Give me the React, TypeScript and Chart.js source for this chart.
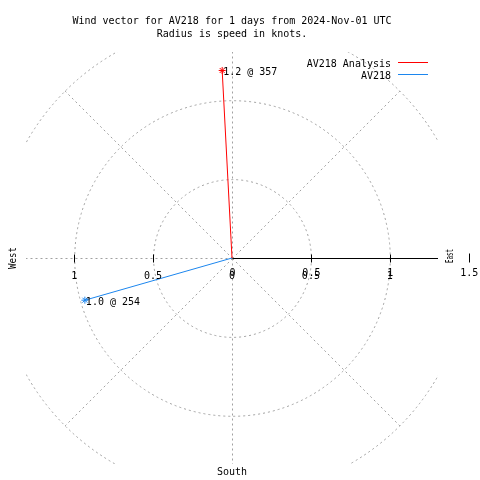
import React, { useEffect, useRef } from "react";
import { Chart, registerables } from "chart.js";

Chart.register(...registerables);

// ---- data ----
const titleLines = [
  "Wind vector for AV218 for 1 days from 2024-Nov-01 UTC",
  "Radius is speed in knots.",
];
const seriesNames = ["AV218 Analysis", "AV218"];
const seriesColors = ["#ff0000", "#1c86ee"];
const speeds = [1.19, 0.97]; // knots
const directions = [357, 254]; // degrees (compass)
const ringValues = [0.5, 1, 1.5];
const spokeAngles = [0, 45, 90, 135, 180, 225, 270, 315];
const axisTicks = [-1, -0.5, 0, 0.5, 1];
const radialTicks = [0, 0.5, 1, 1.5];
const compassLabels = ["West", "East", "South"];
const axisRange = 1.3055;

const FONT = "10px 'DejaVu Sans Mono', monospace";

const polarPlugin = {
  id: "polarDecor",
  beforeDatasetsDraw(chart: any) {
    const { ctx, chartArea: a } = chart;
    const xs = chart.scales.x;
    const ys = chart.scales.y;
    const cx = xs.getPixelForValue(0);
    const cy = ys.getPixelForValue(0);
    const unit = xs.getPixelForValue(1) - cx;
    const rMax = ringValues[ringValues.length - 1];
    ctx.save();
    ctx.beginPath();
    ctx.rect(a.left, a.top, a.right - a.left, a.bottom - a.top);
    ctx.clip();
    ctx.translate(0.5, 0.5);
    ctx.lineWidth = 1;
    ctx.strokeStyle = "#a0a0a0";
    ctx.setLineDash([2, 3]);
    ringValues.forEach((r) => {
      ctx.beginPath();
      ctx.arc(cx, cy, r * unit, 0, Math.PI * 2);
      ctx.stroke();
    });
    spokeAngles.forEach((deg) => {
      if (deg === 0) return;
      const t = (deg * Math.PI) / 180;
      ctx.beginPath();
      ctx.moveTo(cx, cy);
      ctx.lineTo(
        xs.getPixelForValue(rMax * Math.cos(t)),
        ys.getPixelForValue(rMax * Math.sin(t))
      );
      ctx.stroke();
    });
    // solid east axis
    ctx.setLineDash([]);
    ctx.strokeStyle = "#000";
    ctx.beginPath();
    ctx.moveTo(cx, cy);
    ctx.lineTo(a.right, cy);
    ctx.stroke();
    axisTicks.forEach((v) => {
      if (v === 0) return;
      const x = Math.round(xs.getPixelForValue(v));
      ctx.beginPath();
      ctx.moveTo(x, cy - 4);
      ctx.lineTo(x, cy + 4);
      ctx.stroke();
    });
    ctx.restore();
    // radial tick outside the plot
    ctx.save();
    ctx.translate(0.5, 0.5);
    ctx.strokeStyle = "#000";
    ctx.lineWidth = 1;
    radialTicks.forEach((v) => {
      const x = Math.round(xs.getPixelForValue(v));
      if (x <= a.right) return;
      ctx.beginPath();
      ctx.moveTo(x, cy - 5);
      ctx.lineTo(x, cy + 4);
      ctx.stroke();
    });
    ctx.restore();
  },
  afterDraw(chart: any) {
    const { ctx } = chart;
    const xs = chart.scales.x;
    const ys = chart.scales.y;
    const cx = xs.getPixelForValue(0);
    const cy = ys.getPixelForValue(0);
    ctx.save();
    ctx.font = FONT;
    ctx.fillStyle = "#000";
    ctx.textBaseline = "alphabetic";
    // title
    ctx.textAlign = "center";
    titleLines.forEach((t, i) => ctx.fillText(t, 232, 24 + i * 13));
    // axis tick labels
    axisTicks.forEach((v) => {
      ctx.fillText(String(Math.abs(v)), xs.getPixelForValue(v), cy + 21);
    });
    radialTicks.forEach((v) => {
      ctx.fillText(String(v), xs.getPixelForValue(v) + 0.5, cy + 17.5);
    });
    // compass labels
    ctx.fillText(compassLabels[2], cx, 475);
    ctx.save();
    ctx.translate(15.5, 258);
    ctx.rotate(-Math.PI / 2);
    ctx.fillText(compassLabels[0], 0, 0, 22);
    ctx.restore();
    ctx.save();
    ctx.translate(453, 256);
    ctx.rotate(-Math.PI / 2);
    ctx.fillText(compassLabels[1], 0, 0, 14);
    ctx.restore();
    // point labels
    ctx.textAlign = "left";
    chart.data.datasets.forEach((ds: any, i: number) => {
      const meta = chart.getDatasetMeta(i);
      const p = meta.data[1];
      const label = `${speeds[i].toFixed(1)} @ ${directions[i]}`;
      ctx.fillText(label, p.x + 1, p.y + 4.5);
    });
    // legend
    seriesNames.forEach((name, i) => {
      const y = 62.5 + i * 12;
      ctx.textAlign = "right";
      ctx.fillStyle = "#000";
      ctx.fillText(name, 391, y + 4.5);
      ctx.strokeStyle = seriesColors[i];
      ctx.lineWidth = 1;
      ctx.beginPath();
      ctx.moveTo(398, y);
      ctx.lineTo(428, y);
      ctx.stroke();
    });
    ctx.restore();
  },
};

export default function App() {
  const ref = useRef<HTMLCanvasElement | null>(null);
  useEffect(() => {
    if (!ref.current) return;
    const datasets = seriesNames.map((name, i) => {
      const t = (directions[i] * Math.PI) / 180;
      return {
        label: name,
        data: [
          { x: 0, y: 0 },
          { x: speeds[i] * Math.sin(t), y: speeds[i] * Math.cos(t) },
        ],
        showLine: true,
        borderColor: seriesColors[i],
        borderWidth: 1,
        pointStyle: "star",
        pointRadius: [0, 3.5],
        pointBorderColor: seriesColors[i],
        pointBackgroundColor: seriesColors[i],
        pointBorderWidth: 1,
      };
    });
    const chart = new Chart(ref.current, {
      type: "scatter",
      data: { datasets } as any,
      options: {
        animation: false,
        responsive: false,
        maintainAspectRatio: false,
        layout: { padding: { left: 26, right: 42, top: 52, bottom: 16 } },
        plugins: {
          legend: { display: false },
          tooltip: { enabled: false },
          title: { display: false },
        },
        scales: {
          x: { type: "linear", min: -axisRange, max: axisRange, display: false },
          y: { type: "linear", min: -axisRange, max: axisRange, display: false },
        },
      } as any,
      plugins: [polarPlugin],
    });
    return () => chart.destroy();
  }, []);
  return (
    <div
      style={{
        position: "absolute",
        left: 0,
        top: 0,
        width: 480,
        height: 480,
        background: "#fff",
      }}
    >
      <canvas ref={ref} width={480} height={480} style={{ display: "block" }} />
    </div>
  );
}
